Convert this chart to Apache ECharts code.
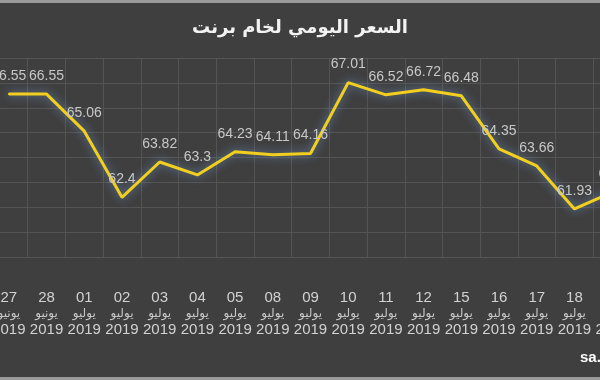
<!DOCTYPE html>
<html>
<head>
<meta charset="utf-8">
<script src="https://cdn.jsdelivr.net/npm/echarts@6/dist/echarts.min.js"></script>
<style>
html,body{margin:0;padding:0;background:#3f3f3f;}
#c{width:600px;height:380px;}
</style>
</head>
<body>
<div id="c"></div>
<script>
const titleText = 'السعر اليومي لخام برنت';
const days = ['27','28','01','02','03','04','05','08','09','10','11','12','15','16','17','18','19'];
const months = ['يونيو','يونيو','يوليو','يوليو','يوليو','يوليو','يوليو','يوليو','يوليو','يوليو','يوليو','يوليو','يوليو','يوليو','يوليو','يوليو','يوليو'];
const years = ['2019','2019','2019','2019','2019','2019','2019','2019','2019','2019','2019','2019','2019','2019','2019','2019','2019'];
const prices = [66.55,66.55,65.06,62.4,63.82,63.3,64.23,64.11,64.16,67.01,66.52,66.72,66.48,64.35,63.66,61.93,62.6];

const categories = days.map((d,i)=> d + '|' + months[i] + '|' + years[i]);

const chart = echarts.init(document.getElementById('c'), null, {renderer:'canvas'});
chart.setOption({
  backgroundColor:'#3f3f3f',
  animation:false,
  title:{
    text:titleText, left:'center', top:14,
    textStyle:{color:'#f2f2f2', fontSize:18, fontWeight:'bold', fontFamily:'DejaVu Sans'}
  },
  grid:{left:-10, right:-31, top:58, bottom:123, containLabel:false, outerBoundsMode:'none'},
  xAxis:{
    type:'category', data:categories, boundaryGap:true,
    axisLine:{show:false}, axisTick:{show:false},
    splitLine:{show:true, lineStyle:{color:'#545454', width:1}},
    axisLabel:{
      interval:0, margin:33, hideOverlap:false,
      formatter:function(v){const p=v.split('|');return '{d|'+p[0]+'}\n{m|'+p[1]+'}\n{y|'+p[2]+'}';},
      rich:{
        d:{color:'#d2d2d2', fontSize:15, fontFamily:'Liberation Sans', lineHeight:16},
        m:{color:'#c8c8c8', fontSize:12, fontFamily:'DejaVu Sans', lineHeight:16},
        y:{color:'#d2d2d2', fontSize:15, fontFamily:'Liberation Sans', lineHeight:16}
      }
    }
  },
  yAxis:{
    type:'value', min:60, max:68, interval:1,
    axisLabel:{show:false}, axisLine:{show:false}, axisTick:{show:false},
    splitLine:{show:true, lineStyle:{color:'#545454', width:1}}
  },
  series:[{
    type:'line', data:prices, symbol:'circle', symbolSize:2, showSymbol:true,
    itemStyle:{color:'#f2cf1e', borderWidth:0},
    lineStyle:{color:'#f2cf1e', width:3, shadowColor:'rgba(120,170,230,0.75)', shadowBlur:10},
    label:{show:true, position:'top', distance:10, color:'#c8c8c8', fontSize:14, fontFamily:'Liberation Sans'},
    labelLayout:{hideOverlap:false}
  }],
  graphic:[
    {type:'rect', shape:{x:0,y:0,width:600,height:3}, style:{fill:'#9a9a9a'}},
    {type:'rect', shape:{x:0,y:377,width:600,height:3}, style:{fill:'#9a9a9a'}},
    {type:'text', left:580, top:350, style:{text:'sa.', fill:'#ffffff', font:'bold 15px Liberation Sans'}}
  ]
});
</script>
</body>
</html>
